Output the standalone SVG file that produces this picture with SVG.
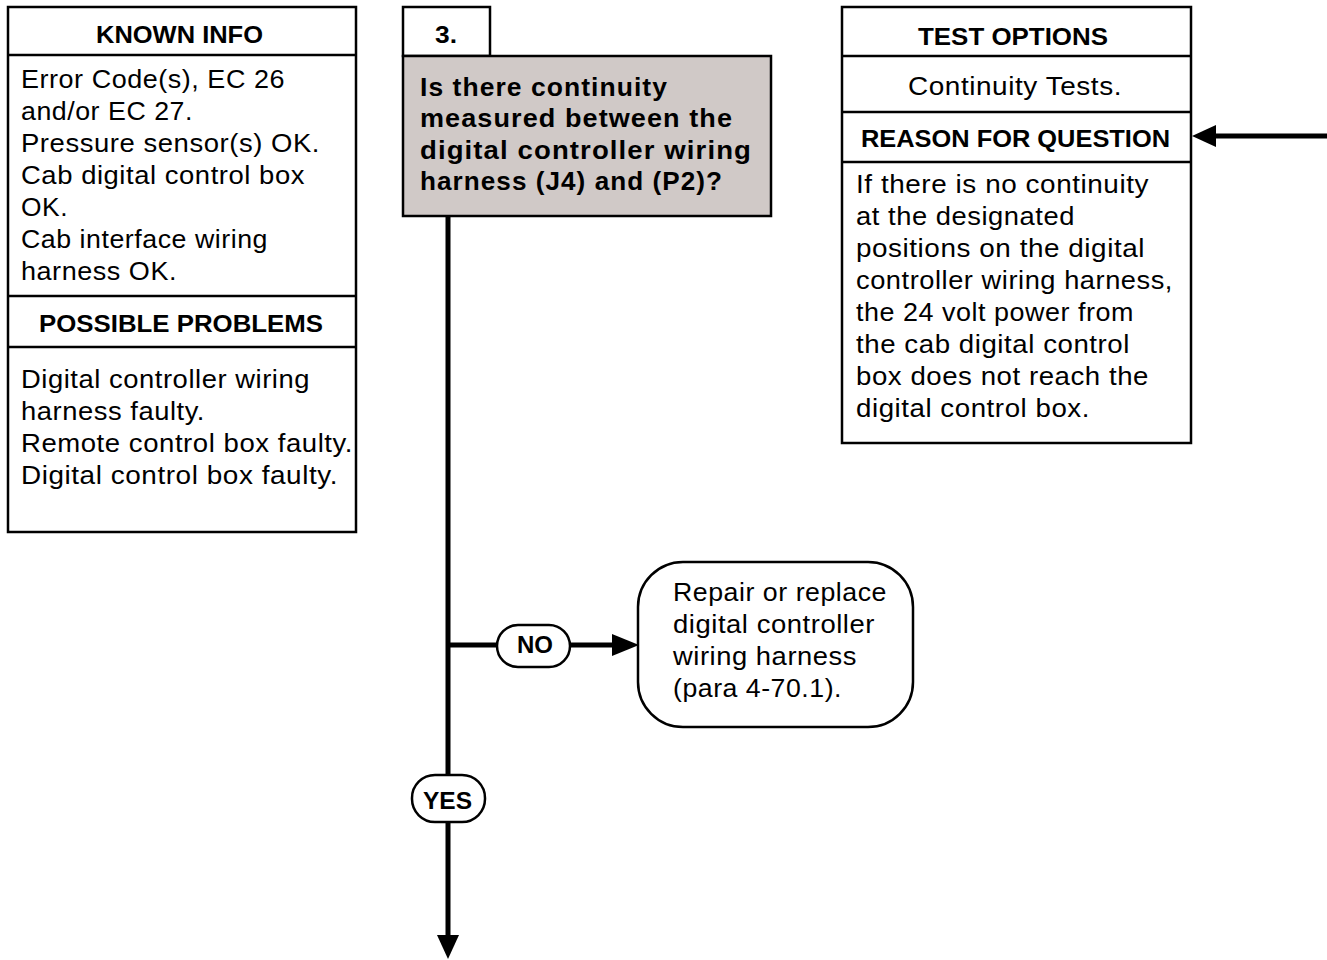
<svg xmlns="http://www.w3.org/2000/svg" width="1327" height="960" viewBox="0 0 1327 960">
<style>
.box{fill:#fff;stroke:#000;stroke-width:2.5}
.div{stroke:#000;stroke-width:2.5}
.q{fill:#d0c9c7;stroke:#000;stroke-width:2.5}
.t{font-family:"Liberation Sans",Arial,sans-serif;font-size:25px;letter-spacing:0.5px;fill:#000}
.b{font-family:"Liberation Sans",Arial,sans-serif;font-size:25px;font-weight:bold;letter-spacing:1px;fill:#000}
.h{font-family:"Liberation Sans",Arial,sans-serif;font-size:23px;font-weight:bold;fill:#000}
.lab{font-family:"Liberation Sans",Arial,sans-serif;font-size:24px;font-weight:bold;fill:#000}
.wire{stroke:#000;stroke-width:5;fill:none}
.pill{fill:#fff;stroke:#000;stroke-width:2.5}
</style>
<rect width="1327" height="960" fill="#fff"/>

<g id="known-info">
<rect class="box" x="8" y="7" width="348" height="525"/>
<line class="div" x1="8" y1="55" x2="356" y2="55"/>
<line class="div" x1="8" y1="296" x2="356" y2="296"/>
<line class="div" x1="8" y1="347" x2="356" y2="347"/>
<text class="h" x="96" y="43" textLength="167" lengthAdjust="spacingAndGlyphs">KNOWN INFO</text>
<text class="t" x="21" y="88" textLength="264" lengthAdjust="spacingAndGlyphs">Error Code(s), EC 26</text>
<text class="t" x="21" y="120" textLength="172" lengthAdjust="spacingAndGlyphs">and/or EC 27.</text>
<text class="t" x="21" y="152" textLength="299" lengthAdjust="spacingAndGlyphs">Pressure sensor(s) OK.</text>
<text class="t" x="21" y="184" textLength="284" lengthAdjust="spacingAndGlyphs">Cab digital control box</text>
<text class="t" x="21" y="216" textLength="47" lengthAdjust="spacingAndGlyphs">OK.</text>
<text class="t" x="21" y="248" textLength="247" lengthAdjust="spacingAndGlyphs">Cab interface wiring</text>
<text class="t" x="21" y="280" textLength="156" lengthAdjust="spacingAndGlyphs">harness OK.</text>
<text class="h" x="39" y="332" textLength="284" lengthAdjust="spacingAndGlyphs">POSSIBLE PROBLEMS</text>
<text class="t" x="21" y="388" textLength="289" lengthAdjust="spacingAndGlyphs">Digital controller wiring</text>
<text class="t" x="21" y="420" textLength="184" lengthAdjust="spacingAndGlyphs">harness faulty.</text>
<text class="t" x="21" y="452" textLength="332" lengthAdjust="spacingAndGlyphs">Remote control box faulty.</text>
<text class="t" x="21" y="484" textLength="317" lengthAdjust="spacingAndGlyphs">Digital control box faulty.</text>
</g>

<g id="step-3">
<rect class="box" x="403" y="7" width="87" height="49"/>
<rect class="q" x="403" y="56" width="368" height="160"/>
<text class="h" x="435" y="43" textLength="22" lengthAdjust="spacingAndGlyphs">3.</text>
<text class="b" x="420" y="96" textLength="248" lengthAdjust="spacingAndGlyphs">Is there continuity</text>
<text class="b" x="420" y="127" textLength="313" lengthAdjust="spacingAndGlyphs">measured between the</text>
<text class="b" x="420" y="159" textLength="332" lengthAdjust="spacingAndGlyphs">digital controller wiring</text>
<text class="b" x="420" y="190" textLength="303" lengthAdjust="spacingAndGlyphs">harness (J4) and (P2)?</text>
</g>

<g id="test-options">
<rect class="box" x="842" y="7" width="349" height="436"/>
<line class="div" x1="842" y1="56" x2="1191" y2="56"/>
<line class="div" x1="842" y1="112" x2="1191" y2="112"/>
<line class="div" x1="842" y1="162" x2="1191" y2="162"/>
<text class="h" x="918" y="45" textLength="190" lengthAdjust="spacingAndGlyphs">TEST OPTIONS</text>
<text class="t" x="908" y="95" textLength="214" lengthAdjust="spacingAndGlyphs">Continuity Tests.</text>
<text class="h" x="861" y="147" textLength="309" lengthAdjust="spacingAndGlyphs">REASON FOR QUESTION</text>
<text class="t" x="856" y="193" textLength="293" lengthAdjust="spacingAndGlyphs">If there is no continuity</text>
<text class="t" x="856" y="225" textLength="219" lengthAdjust="spacingAndGlyphs">at the designated</text>
<text class="t" x="856" y="257" textLength="289" lengthAdjust="spacingAndGlyphs">positions on the digital</text>
<text class="t" x="856" y="289" textLength="317" lengthAdjust="spacingAndGlyphs">controller wiring harness,</text>
<text class="t" x="856" y="321" textLength="278" lengthAdjust="spacingAndGlyphs">the 24 volt power from</text>
<text class="t" x="856" y="353" textLength="274" lengthAdjust="spacingAndGlyphs">the cab digital control</text>
<text class="t" x="856" y="385" textLength="293" lengthAdjust="spacingAndGlyphs">box does not reach the</text>
<text class="t" x="856" y="417" textLength="234" lengthAdjust="spacingAndGlyphs">digital control box.</text>
</g>

<g id="connectors">
<line class="wire" x1="448" y1="216" x2="448" y2="938"/>
<polygon points="437,935 459,935 448,959" fill="#000"/>
<line class="wire" x1="448" y1="645" x2="614" y2="645"/>
<polygon points="612,634 639,645 612,656" fill="#000"/>
<line class="wire" x1="1214" y1="136" x2="1327" y2="136"/>
<polygon points="1216,125 1192,136 1216,147" fill="#000"/>
</g>

<g id="no-label">
<rect class="pill" x="497" y="625" width="73" height="42" rx="21"/>
<text class="lab" x="517" y="653" textLength="36" lengthAdjust="spacingAndGlyphs">NO</text>
</g>

<g id="yes-label">
<rect class="pill" x="412" y="775" width="73" height="47" rx="23"/>
<text class="lab" x="423" y="809" textLength="49" lengthAdjust="spacingAndGlyphs">YES</text>
</g>

<g id="repair">
<rect class="box" x="638" y="562" width="275" height="165" rx="45"/>
<text class="t" x="673" y="601" textLength="214" lengthAdjust="spacingAndGlyphs">Repair or replace</text>
<text class="t" x="673" y="633" textLength="202" lengthAdjust="spacingAndGlyphs">digital controller</text>
<text class="t" x="673" y="665" textLength="184" lengthAdjust="spacingAndGlyphs">wiring harness</text>
<text class="t" x="673" y="697" textLength="169" lengthAdjust="spacingAndGlyphs">(para 4-70.1).</text>
</g>
</svg>
